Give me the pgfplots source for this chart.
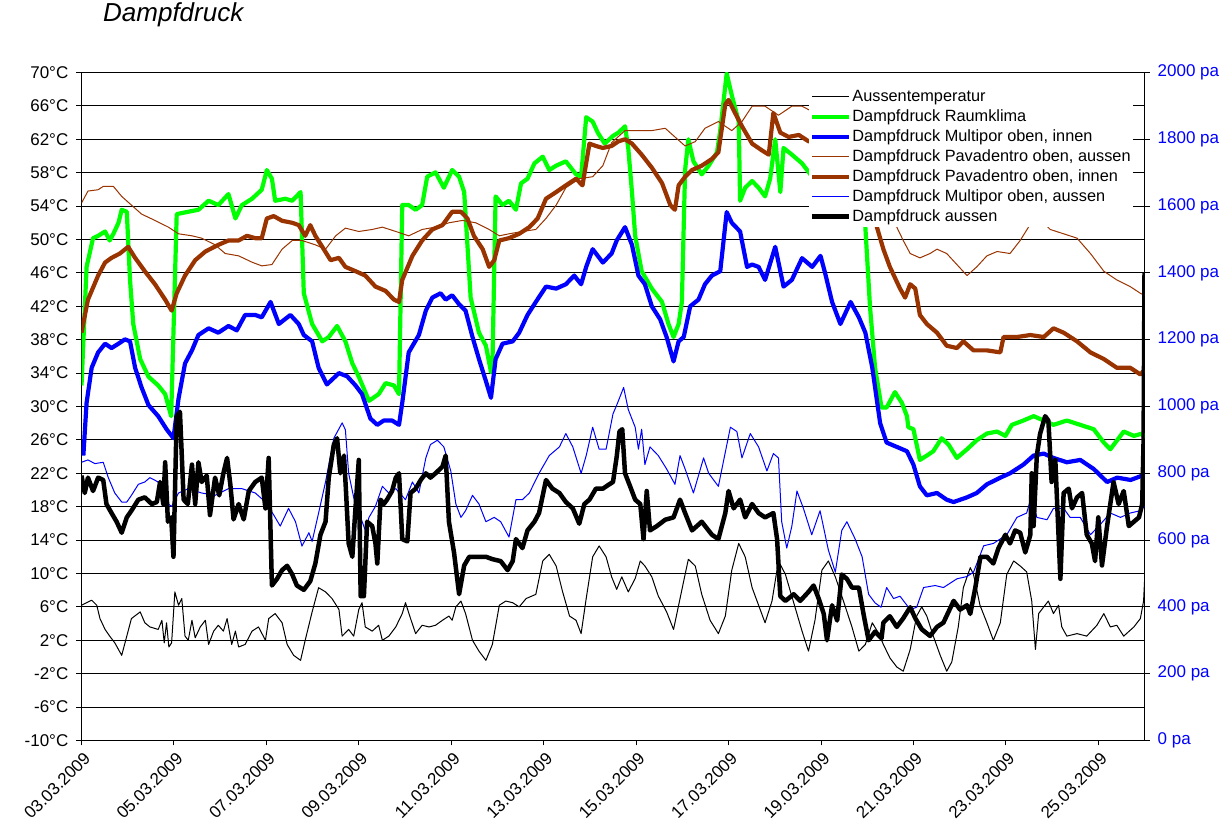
\documentclass[border=0pt]{standalone}
\usepackage{pgfplots}
\pgfplotsset{compat=1.18}
\usepackage{fontspec}
\setmainfont{Liberation Sans}
\newcommand\f{\fontsize{17}{20}\selectfont}
\newcommand\fl{\fontsize{16.3}{19}\selectfont}
\begin{document}
\begin{tikzpicture}
\begin{axis}[
  name=main, scale only axis, width=1063pt, height=668pt,
  at={(0pt,0pt)}, anchor=south west,
  xmin=0, xmax=23, ymin=-10, ymax=70,
  xtick={0,2,...,22},
  xticklabels={03.03.2009,05.03.2009,07.03.2009,09.03.2009,11.03.2009,13.03.2009,15.03.2009,17.03.2009,19.03.2009,21.03.2009,23.03.2009,25.03.2009},
  xticklabel style={rotate=45, anchor=north east, font=\f, inner sep=1pt, xshift=-2pt, yshift=-4pt},
  ytick={-10,-6,...,70},
  yticklabels={-10°C,-6°C,-2°C,2°C,6°C,10°C,14°C,18°C,22°C,26°C,30°C,34°C,38°C,42°C,46°C,50°C,54°C,58°C,62°C,66°C,70°C},
  yticklabel style={font=\f, inner sep=1pt, xshift=-7pt},
  ymajorgrids, grid style={black, line width=0.9pt},
  tick align=outside, xtick pos=bottom, ytick pos=left,
  major tick length=5pt,
  tick style={black, line width=0.9pt},
  axis line style={line width=0.9pt},
  title={\fontsize{26}{30}\selectfont\itshape Dampfdruck},
  title style={at={(axis description cs:0.0202,1)}, anchor=base west, yshift=44.5pt, inner sep=0pt},
]
\addplot[black, line width=1pt, line join=round] coordinates {
(0.00,6.2)(0.11,6.5)(0.22,6.8)(0.33,6.2)(0.40,4.6)(0.51,3.3)(0.61,2.5)(0.72,1.7)(0.87,0.2)(0.98,2.5)(1.08,4.6)(1.27,5.4)(1.37,4.1)(1.48,3.6)(1.66,3.3)(1.74,4.4)(1.79,1.7)(1.84,4.1)(1.89,1.2)(1.95,1.7)(2.02,7.8)(2.10,6.2)(2.17,7.0)(2.24,2.5)(2.31,2.0)(2.39,4.4)(2.46,2.3)(2.57,3.6)(2.68,4.4)(2.75,1.5)(2.86,3.1)(2.96,3.8)(3.07,3.1)(3.15,4.6)(3.25,1.5)(3.33,3.1)(3.40,1.2)(3.54,1.5)(3.69,3.1)(3.83,3.6)(3.98,2.0)(4.05,4.6)(4.19,5.2)(4.34,4.1)(4.45,1.5)(4.59,0.2)(4.74,-0.4)(4.84,2.0)(4.99,5.4)(5.13,8.3)(5.28,7.8)(5.42,7.0)(5.57,5.7)(5.64,2.5)(5.78,3.3)(5.89,2.5)(6.00,5.7)(6.07,6.5)(6.14,3.6)(6.29,3.1)(6.43,3.8)(6.51,2.0)(6.65,2.5)(6.80,3.6)(6.94,5.2)(7.01,6.5)(7.12,4.6)(7.23,2.8)(7.37,3.8)(7.52,3.6)(7.66,3.8)(7.81,4.4)(7.95,4.9)(8.02,4.4)(8.10,6.0)(8.21,6.7)(8.31,5.2)(8.46,2.0)(8.60,0.7)(8.75,-0.4)(8.89,1.5)(9.04,6.2)(9.18,6.7)(9.33,6.5)(9.47,6.0)(9.62,7.0)(9.83,7.5)(9.98,11.5)(10.12,12.3)(10.27,10.9)(10.41,7.8)(10.56,4.9)(10.70,4.4)(10.81,2.8)(10.92,7.0)(11.06,12.0)(11.20,13.3)(11.35,12.0)(11.47,9.6)(11.58,8.1)(11.69,9.6)(11.83,7.8)(11.98,9.4)(12.09,11.5)(12.19,10.9)(12.34,9.6)(12.48,7.3)(12.66,5.4)(12.81,3.3)(12.92,6.2)(13.03,9.1)(13.13,11.7)(13.28,10.9)(13.42,7.5)(13.60,4.4)(13.78,2.8)(13.93,4.9)(14.07,10.4)(14.22,13.6)(14.36,12.0)(14.51,8.3)(14.65,6.2)(14.79,4.1)(14.94,6.7)(15.08,11.5)(15.23,9.9)(15.41,6.5)(15.59,3.1)(15.73,0.7)(15.87,4.4)(16.02,10.4)(16.16,11.5)(16.31,9.6)(16.45,7.3)(16.67,3.6)(16.82,0.7)(16.96,1.5)(17.11,4.1)(17.25,2.8)(17.35,1.5)(17.49,-0.1)(17.64,-1.2)(17.78,-1.7)(17.93,0.9)(18.07,4.9)(18.18,6.0)(18.29,4.9)(18.43,2.5)(18.58,0.2)(18.72,-1.7)(18.83,-0.6)(18.97,3.6)(19.08,8.3)(19.23,10.7)(19.30,9.9)(19.44,6.2)(19.59,4.1)(19.73,2.0)(19.88,4.1)(20.02,9.9)(20.17,11.5)(20.31,10.9)(20.45,10.2)(20.56,6.7)(20.64,0.9)(20.71,5.2)(20.82,6.0)(20.92,6.7)(21.03,5.2)(21.14,6.2)(21.21,3.6)(21.32,2.5)(21.54,2.8)(21.75,2.5)(21.97,3.8)(22.12,5.2)(22.26,3.6)(22.40,3.8)(22.55,2.5)(22.77,3.6)(22.91,4.6)(22.98,6.7)(23.0,9.0)
};
\end{axis}
\begin{axis}[
  scale only axis, width=1063pt, height=668pt,
  at={(0pt,0pt)}, anchor=south west,
  xmin=0, xmax=23, ymin=0, ymax=2000,
  axis x line=none, axis y line*=right,
  ytick={0,200,...,2000},
  yticklabels={0 pa,200 pa,400 pa,600 pa,800 pa,1000 pa,1200 pa,1400 pa,1600 pa,1800 pa,2000 pa},
  yticklabel style={font=\f, text=blue, inner sep=1pt, xshift=7pt},
  minor y tick num=1,
  tick align=center, major tick length=10pt, minor tick length=5pt,
  every minor y tick/.append style={xshift=-2.5pt},
  tick style={black, line width=0.9pt},
  axis line style={line width=0.9pt},
  legend cell align=left,
  legend image code/.code={\draw[#1] (0pt,0pt) -- (37pt,0pt);},
  legend style={at={(rel axis cs:0.989,0.979)}, anchor=north east, draw=none, fill=white,
    font=\fl, inner sep=1pt, row sep=2pt,
    nodes={inner sep=1pt, text height=13pt, text depth=3pt}},
]
\addlegendimage{black, line width=1pt}
\addlegendentry{Aussentemperatur}
\addplot[color={rgb,255:red,0;green,255;blue,0}, line width=4.2pt, line join=round] coordinates {
(0.00,1063)(0.11,1418)(0.25,1504)(0.36,1511)(0.51,1524)(0.61,1497)(0.69,1517)(0.80,1550)(0.87,1589)(0.98,1583)(1.05,1379)(1.12,1247)(1.27,1142)(1.45,1089)(1.66,1063)(1.81,1037)(1.94,971)(2.06,1576)(2.31,1583)(2.53,1589)(2.75,1616)(2.96,1603)(3.18,1636)(3.33,1563)(3.47,1603)(3.69,1622)(3.90,1649)(4.01,1708)(4.12,1682)(4.19,1616)(4.41,1622)(4.56,1616)(4.74,1642)(4.81,1339)(4.99,1247)(5.21,1195)(5.35,1208)(5.53,1241)(5.71,1195)(5.86,1129)(6.00,1089)(6.22,1017)(6.43,1037)(6.58,1070)(6.76,1063)(6.87,1037)(6.94,1603)(7.08,1603)(7.23,1589)(7.37,1603)(7.48,1688)(7.66,1701)(7.84,1655)(8.02,1708)(8.17,1688)(8.28,1642)(8.42,1326)(8.60,1221)(8.75,1182)(8.86,1103)(8.89,1116)(8.96,1629)(9.11,1603)(9.25,1616)(9.40,1589)(9.51,1668)(9.65,1682)(9.80,1728)(9.98,1748)(10.12,1708)(10.27,1721)(10.48,1734)(10.70,1695)(10.81,1688)(10.92,1866)(11.06,1853)(11.17,1820)(11.32,1787)(11.50,1810)(11.62,1820)(11.76,1839)(11.83,1774)(11.91,1642)(11.98,1511)(12.12,1405)(12.34,1353)(12.56,1313)(12.70,1247)(12.81,1208)(12.92,1247)(12.99,1313)(13.06,1708)(13.13,1800)(13.24,1734)(13.42,1695)(13.57,1721)(13.75,1761)(13.82,1826)(13.96,1997)(14.07,1932)(14.22,1853)(14.25,1616)(14.36,1655)(14.51,1675)(14.65,1655)(14.79,1629)(14.90,1682)(15.01,1800)(15.12,1642)(15.19,1774)(15.37,1754)(15.59,1728)(15.77,1695)(16.0,1680)(16.5,1660)(16.9,1640)(16.96,1537)(17.06,1300)(17.17,1116)(17.31,997)(17.42,997)(17.60,1043)(17.75,1011)(17.86,971)(17.89,938)(18.00,932)(18.14,840)(18.29,853)(18.43,866)(18.61,905)(18.76,886)(18.94,846)(19.16,872)(19.37,899)(19.59,919)(19.81,925)(19.99,912)(20.13,945)(20.38,958)(20.60,971)(20.82,958)(21.03,945)(21.32,958)(21.61,945)(21.90,932)(22.12,892)(22.26,872)(22.55,925)(22.77,912)(22.95,919)(23.0,905)
};
\addlegendentry{Dampfdruck Raumklima}
\addplot[blue, line width=4.2pt, line join=round] coordinates {
(0.04,853)(0.11,1011)(0.22,1116)(0.36,1162)(0.51,1188)(0.65,1175)(0.80,1188)(0.94,1201)(1.05,1195)(1.16,1116)(1.30,1057)(1.45,1004)(1.66,971)(1.84,932)(1.99,905)(2.10,1024)(2.24,1129)(2.39,1168)(2.53,1214)(2.75,1234)(2.96,1221)(3.18,1241)(3.36,1228)(3.54,1274)(3.76,1274)(3.90,1267)(4.09,1313)(4.27,1247)(4.52,1274)(4.70,1247)(4.81,1214)(4.99,1195)(5.13,1116)(5.31,1066)(5.57,1100)(5.75,1090)(5.93,1063)(6.07,1037)(6.25,964)(6.40,945)(6.54,958)(6.72,958)(6.87,945)(6.94,1011)(7.08,1162)(7.30,1214)(7.45,1287)(7.59,1326)(7.77,1339)(7.88,1320)(8.02,1333)(8.17,1306)(8.31,1287)(8.46,1208)(8.60,1142)(8.75,1076)(8.86,1026)(8.96,1142)(9.11,1188)(9.33,1195)(9.47,1221)(9.65,1274)(9.83,1313)(10.05,1359)(10.27,1353)(10.48,1366)(10.66,1392)(10.81,1366)(10.92,1418)(11.06,1471)(11.28,1431)(11.47,1458)(11.58,1497)(11.76,1537)(11.91,1484)(12.05,1392)(12.19,1366)(12.34,1300)(12.52,1261)(12.66,1208)(12.81,1135)(12.92,1195)(13.03,1208)(13.17,1300)(13.35,1320)(13.49,1366)(13.64,1392)(13.82,1405)(13.96,1582)(14.07,1550)(14.25,1524)(14.40,1418)(14.51,1425)(14.65,1418)(14.79,1379)(15.01,1478)(15.19,1359)(15.37,1379)(15.59,1444)(15.81,1418)(15.99,1451)(16.09,1399)(16.24,1313)(16.42,1247)(16.64,1313)(16.82,1267)(16.96,1221)(17.11,1116)(17.28,950)(17.42,892)(17.64,879)(17.86,866)(18.0,826)(18.14,761)(18.29,734)(18.51,741)(18.72,721)(18.87,714)(19.16,728)(19.37,741)(19.59,767)(19.88,787)(20.09,800)(20.38,826)(20.60,853)(20.82,859)(21.03,846)(21.32,833)(21.61,840)(21.90,813)(22.19,774)(22.41,787)(22.70,780)(22.95,793)(23.0,800)
};
\addlegendentry{Dampfdruck Multipor oben, innen}
\addplot[color={rgb,255:red,153;green,51;blue,0}, line width=1pt, line join=round] coordinates {
(0.00,1609)(0.14,1645)(0.36,1649)(0.47,1659)(0.69,1659)(0.87,1629)(1.08,1603)(1.30,1576)(1.59,1557)(1.88,1537)(2.10,1517)(2.39,1511)(2.60,1504)(2.89,1484)(3.11,1458)(3.40,1451)(3.69,1432)(3.90,1421)(4.12,1425)(4.34,1471)(4.56,1497)(4.77,1497)(5.06,1484)(5.28,1471)(5.50,1511)(5.71,1534)(6.00,1524)(6.29,1530)(6.51,1537)(6.80,1524)(7.08,1511)(7.37,1530)(7.66,1537)(7.95,1550)(8.24,1557)(8.53,1550)(8.82,1530)(9.04,1511)(9.25,1517)(9.54,1524)(9.83,1530)(10.05,1563)(10.27,1603)(10.48,1655)(10.77,1682)(11.06,1688)(11.28,1721)(11.47,1790)(11.76,1826)(12.05,1826)(12.34,1826)(12.63,1833)(12.84,1807)(13.06,1780)(13.28,1793)(13.49,1833)(13.78,1853)(14.07,1826)(14.29,1853)(14.51,1899)(14.79,1899)(15.08,1872)(15.37,1899)(15.59,1899)(15.77,1886)(16.0,1880)(16.5,1860)(17.0,1800)(17.4,1650)(17.64,1537)(17.78,1497)(17.93,1458)(18.14,1445)(18.36,1458)(18.51,1471)(18.72,1458)(18.94,1425)(19.16,1392)(19.37,1418)(19.59,1451)(19.81,1464)(20.09,1458)(20.31,1497)(20.53,1546)(20.74,1560)(20.96,1530)(21.25,1517)(21.54,1504)(21.83,1458)(22.12,1405)(22.40,1379)(22.69,1359)(22.91,1339)(23.0,1333)
};
\addlegendentry{Dampfdruck Pavadentro oben, aussen}
\addplot[color={rgb,255:red,153;green,51;blue,0}, line width=4.2pt, line join=round] coordinates {
(0.00,1221)(0.14,1320)(0.36,1392)(0.51,1431)(0.65,1445)(0.83,1458)(1.01,1478)(1.16,1445)(1.37,1405)(1.59,1366)(1.81,1320)(1.95,1287)(2.06,1339)(2.24,1392)(2.46,1438)(2.68,1464)(2.96,1484)(3.18,1497)(3.40,1497)(3.58,1511)(3.76,1504)(3.90,1504)(4.01,1563)(4.16,1570)(4.34,1556)(4.56,1550)(4.70,1543)(4.84,1511)(4.95,1543)(5.06,1511)(5.21,1478)(5.39,1438)(5.57,1445)(5.71,1418)(5.93,1405)(6.14,1392)(6.36,1359)(6.58,1346)(6.76,1320)(6.87,1313)(6.94,1379)(7.16,1451)(7.37,1497)(7.59,1530)(7.81,1543)(8.02,1583)(8.21,1583)(8.35,1563)(8.49,1511)(8.68,1471)(8.82,1418)(8.93,1438)(9.04,1497)(9.25,1504)(9.47,1517)(9.69,1537)(9.87,1563)(10.05,1622)(10.27,1642)(10.48,1662)(10.70,1682)(10.84,1662)(10.99,1787)(11.13,1780)(11.28,1774)(11.47,1780)(11.62,1794)(11.76,1800)(11.91,1787)(12.12,1754)(12.34,1715)(12.56,1669)(12.74,1603)(12.84,1589)(12.92,1662)(13.06,1688)(13.21,1708)(13.42,1721)(13.64,1741)(13.78,1761)(13.93,1905)(14.00,1918)(14.14,1879)(14.29,1839)(14.51,1787)(14.72,1767)(14.87,1754)(14.97,1879)(15.12,1820)(15.30,1807)(15.52,1813)(15.73,1794)(16.0,1790)(16.4,1770)(16.8,1700)(17.1,1600)(17.21,1537)(17.35,1471)(17.49,1418)(17.71,1353)(17.82,1326)(17.93,1366)(18.04,1353)(18.14,1274)(18.29,1247)(18.51,1221)(18.72,1182)(18.94,1175)(19.08,1195)(19.30,1168)(19.59,1168)(19.88,1162)(19.95,1208)(20.24,1208)(20.53,1214)(20.82,1208)(21.03,1234)(21.25,1221)(21.54,1195)(21.83,1162)(22.12,1142)(22.40,1116)(22.69,1116)(22.91,1096)(23.0,1109)
};
\addlegendentry{Dampfdruck Pavadentro oben, innen}
\addplot[blue, line width=1pt, line join=round] coordinates {
(0.00,833)(0.14,840)(0.29,829)(0.47,833)(0.58,787)(0.72,741)(0.87,714)(0.98,714)(1.08,734)(1.23,767)(1.37,774)(1.48,787)(1.66,774)(1.81,714)(1.95,701)(2.10,741)(2.31,754)(2.60,741)(2.89,734)(3.18,754)(3.47,754)(3.76,741)(3.98,714)(4.16,675)(4.30,642)(4.48,695)(4.63,655)(4.77,582)(4.92,622)(4.99,596)(5.13,681)(5.28,774)(5.46,905)(5.64,951)(5.71,930)(5.78,800)(5.93,701)(6.04,668)(6.14,629)(6.22,668)(6.36,701)(6.51,761)(6.65,741)(6.80,754)(7.01,721)(7.16,774)(7.30,741)(7.45,846)(7.55,886)(7.70,899)(7.84,879)(7.99,807)(8.10,708)(8.21,668)(8.31,688)(8.46,734)(8.60,708)(8.75,655)(8.93,668)(9.07,655)(9.25,609)(9.40,721)(9.54,721)(9.69,741)(9.90,800)(10.12,853)(10.34,879)(10.48,919)(10.63,879)(10.81,800)(10.92,853)(11.06,938)(11.20,872)(11.35,872)(11.50,978)(11.58,1004)(11.73,1057)(11.83,991)(11.98,938)(12.05,872)(12.12,932)(12.19,826)(12.30,879)(12.48,853)(12.66,813)(12.84,767)(12.95,853)(13.06,813)(13.24,741)(13.46,846)(13.57,800)(13.78,761)(14.04,938)(14.18,925)(14.29,846)(14.47,919)(14.65,879)(14.83,807)(14.97,859)(15.08,846)(15.15,655)(15.26,576)(15.37,642)(15.48,747)(15.62,695)(15.80,616)(15.98,688)(16.16,570)(16.31,504)(16.45,629)(16.56,655)(16.74,603)(16.89,550)(17.03,438)(17.17,412)(17.30,399)(17.42,458)(17.57,425)(17.71,432)(17.93,392)(18.07,399)(18.22,458)(18.47,464)(18.65,458)(18.94,484)(19.16,491)(19.30,504)(19.52,583)(19.73,590)(20.02,616)(20.24,668)(20.45,681)(20.56,734)(20.67,668)(20.89,661)(21.03,695)(21.25,695)(21.39,668)(21.61,668)(21.83,616)(22.05,648)(22.26,681)(22.48,668)(22.69,681)(22.91,688)(23.0,701)
};
\addlegendentry{Dampfdruck Multipor oben, aussen}
\addplot[black, line width=4.5pt, line join=round] coordinates {
(0.00,793)(0.07,741)(0.14,787)(0.25,747)(0.36,787)(0.47,780)(0.54,708)(0.65,681)(0.76,655)(0.87,622)(0.98,668)(1.08,688)(1.23,721)(1.37,728)(1.52,708)(1.63,714)(1.70,774)(1.77,708)(1.81,833)(1.87,655)(1.94,668)(1.99,550)(2.06,971)(2.13,984)(2.21,721)(2.30,708)(2.39,826)(2.46,708)(2.53,833)(2.60,774)(2.71,793)(2.78,675)(2.89,787)(2.98,734)(3.07,800)(3.15,846)(3.22,767)(3.29,662)(3.40,708)(3.51,662)(3.62,747)(3.76,774)(3.90,787)(3.98,695)(4.05,846)(4.12,464)(4.23,484)(4.34,510)(4.45,523)(4.56,497)(4.66,464)(4.81,451)(4.95,477)(5.06,530)(5.17,616)(5.28,655)(5.35,787)(5.46,886)(5.53,905)(5.60,800)(5.68,853)(5.72,754)(5.78,590)(5.86,550)(5.93,700)(6.00,840)(6.04,432)(6.11,432)(6.18,655)(6.29,642)(6.36,590)(6.40,530)(6.47,721)(6.54,708)(6.61,721)(6.72,747)(6.80,787)(6.87,800)(6.94,603)(7.05,596)(7.12,741)(7.23,754)(7.34,780)(7.45,800)(7.55,787)(7.66,800)(7.81,820)(7.88,853)(7.95,655)(8.06,563)(8.17,438)(8.28,524)(8.39,550)(8.57,550)(8.75,550)(8.89,543)(9.07,537)(9.22,510)(9.33,537)(9.40,603)(9.54,576)(9.65,629)(9.80,655)(9.90,681)(10.05,780)(10.19,754)(10.34,741)(10.48,714)(10.63,695)(10.77,649)(10.88,708)(10.99,721)(11.13,754)(11.28,754)(11.42,767)(11.50,774)(11.58,850)(11.64,925)(11.70,932)(11.76,800)(11.87,761)(11.98,721)(12.09,708)(12.16,603)(12.23,747)(12.30,629)(12.45,642)(12.63,661)(12.81,668)(12.95,721)(13.06,681)(13.21,629)(13.42,655)(13.64,616)(13.78,603)(13.93,681)(14.00,747)(14.11,695)(14.25,721)(14.36,668)(14.51,708)(14.65,681)(14.79,668)(14.97,681)(15.05,603)(15.12,432)(15.23,418)(15.41,438)(15.55,418)(15.73,445)(15.84,464)(15.95,425)(16.06,379)(16.13,300)(16.24,405)(16.35,359)(16.45,497)(16.56,484)(16.67,458)(16.82,458)(16.92,379)(17.03,300)(17.17,326)(17.31,306)(17.35,353)(17.49,372)(17.64,340)(17.78,366)(17.93,399)(18.04,366)(18.18,333)(18.36,313)(18.51,340)(18.65,353)(18.87,418)(19.01,392)(19.16,405)(19.23,379)(19.34,458)(19.45,550)(19.59,550)(19.73,530)(19.84,576)(19.99,616)(20.09,590)(20.20,629)(20.31,622)(20.42,563)(20.53,616)(20.56,800)(20.60,642)(20.67,853)(20.74,918)(20.85,971)(20.92,958)(20.99,774)(21.07,840)(21.18,484)(21.25,741)(21.36,754)(21.43,695)(21.54,728)(21.65,741)(21.75,616)(21.86,590)(21.93,537)(22.00,668)(22.08,524)(22.19,642)(22.33,774)(22.44,708)(22.55,747)(22.66,642)(22.77,655)(22.88,668)(22.95,708)(22.98,900)(23.0,1400)
};
\addlegendentry{Dampfdruck aussen}
\end{axis}
\pgfresetboundingbox
\path (-81.5pt,-91pt) rectangle (1149.5pt,740.5pt);
\end{tikzpicture}
\end{document}
